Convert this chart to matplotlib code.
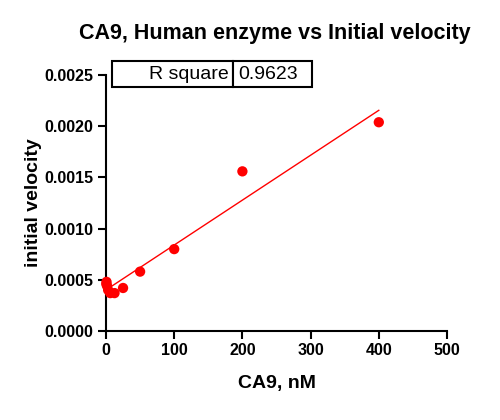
import matplotlib
matplotlib.use("Agg")
import matplotlib.pyplot as plt
import numpy as np

plt.rcParams['font.family'] = ['Liberation Sans', 'DejaVu Sans']

# CA9 concentration (nM) and measured initial velocity
conc = [0.39, 0.78, 1.56, 3.125, 6.25, 12.5, 25, 50, 100, 200, 400]
velocity = [0.00046, 0.00048, 0.00044, 0.00040, 0.00037, 0.00037,
            0.00042, 0.00058, 0.00080, 0.00156, 0.00204]
r_square = "0.9623"

xticks = [0, 100, 200, 300, 400, 500]
yticks = [0.0, 0.0005, 0.0010, 0.0015, 0.0020, 0.0025]

fig = plt.figure(figsize=(5, 4.2), dpi=100)
ax = fig.add_axes([0.212, 0.212, 0.682, 0.609])

slope, intercept = np.polyfit(conc, velocity, 1)
xs = np.array([min(conc), max(conc)])
ax.plot(xs, slope * xs + intercept, color='red', lw=1.0, zorder=2)
ax.scatter(conc, velocity, s=55, color='red', edgecolor='none', zorder=3, clip_on=False)

ax.set_xlim(0, 500)
ax.set_ylim(0, 0.0025)
ax.set_xticks(xticks)
ax.set_yticks(yticks)
ax.set_yticklabels([f"{v:.4f}" for v in yticks])

for s in ['top', 'right']:
    ax.spines[s].set_visible(False)
for s in ['left', 'bottom']:
    ax.spines[s].set_linewidth(1.5)
ax.tick_params(width=1.5, length=6, pad=3, labelsize=11.5)
for lbl in ax.get_xticklabels() + ax.get_yticklabels():
    lbl.set_fontweight('bold')

ax.set_xlabel("CA9, nM", fontsize=14, fontweight='bold', labelpad=12)
ax.set_ylabel("initial velocity", fontsize=14, fontweight='bold', labelpad=2)
fig.suptitle("CA9, Human enzyme vs Initial velocity", x=0.55, y=0.945,
             fontsize=15.5, fontweight='bold')

# R square table
tab = ax.table(cellText=[["R square", r_square]],
               colWidths=[0.605 * 0.587, 0.395 * 0.587],
               bbox=[0.0176, 0.953, 0.587, 0.1016])
tab.auto_set_font_size(False)
for (r, c), cell in tab.get_celld().items():
    cell.set_linewidth(1.5)
    cell.get_text().set_fontsize(14)
    cell.get_text().set_ha('right' if c == 0 else 'left')
    cell.PAD = 0.04 if c == 0 else 0.07

fig.savefig("out.png", dpi=100)
